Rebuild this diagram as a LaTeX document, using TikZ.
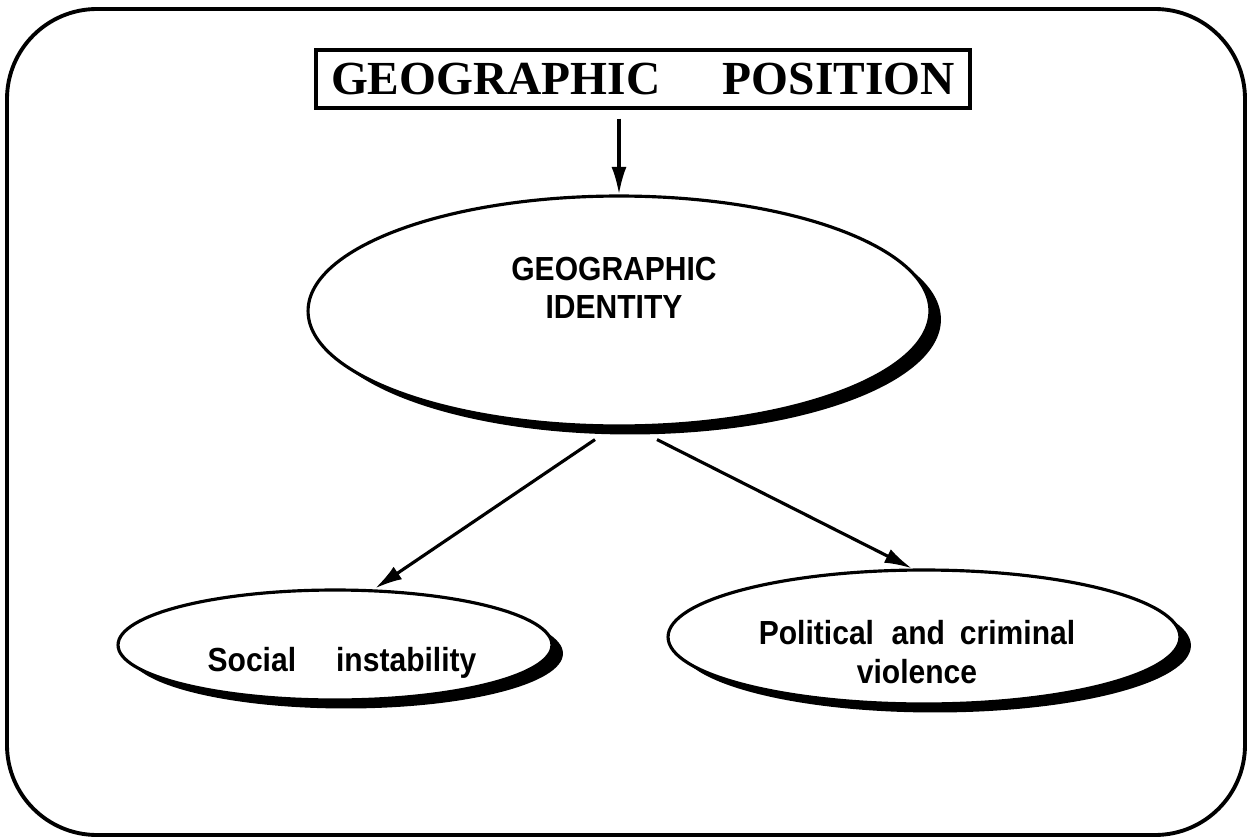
\documentclass[tikz,border=0pt]{standalone}
\usepackage{fontspec}
\setmainfont{Liberation Serif}
\setsansfont{Liberation Sans}
\newfontfamily\lblfont[FakeStretch=0.9]{Liberation Sans}
\usetikzlibrary{arrows.meta,shapes.geometric,shadows}

\begin{document}
\begin{tikzpicture}[x=0.02cm,y=-0.02cm,
  frame/.style={draw,line width=2.2pt,rounded corners=1.8cm},
  titlebox/.style={draw,line width=1.8pt,inner sep=0pt,
    minimum width=13.08cm,minimum height=1.16cm,
    font=\fontsize{27pt}{31pt}\selectfont\bfseries},
  bubble/.style={ellipse,draw,fill=white,line width=1.8pt,inner sep=0pt,
    drop shadow={shadow xshift=0.22cm,shadow yshift=-0.17cm,
      fill=black,opacity=1}},
  label/.style={font=\lblfont\bfseries\fontsize{19pt}{21pt}\selectfont,
    align=center,inner sep=0pt},
  arr/.style={line width=1.8pt,-{Latex[length=0.55cm,width=0.3cm]}}]

  \useasboundingbox (0,0) rectangle (1251,838);

  % outer frame
  \draw[frame] (7,9) rectangle (1245,835);

  % heading
  \node[titlebox] (title) at (643,79)
    {GEOGRAPHIC\hspace{1.25cm}POSITION};

  % ellipses
  \node[bubble,minimum width=12.44cm,minimum height=4.6cm] (geo) at (619,311) {};
  \node[bubble,minimum width=8.68cm,minimum height=2.2cm] (soc) at (335,645) {};
  \node[bubble,minimum width=10.24cm,minimum height=2.68cm] (pol) at (924,637) {};

  % texts
  \node[label] (geot) at (614,288) {GEOGRAPHIC\\[1pt]IDENTITY};
  \node[label] (soct) at (342,663) {Social\hspace{0.8cm}instability};
  \node[label] (polt) at (917,652) {Political\hspace{0.35cm}and\hspace{0.3cm}criminal\\[1pt]violence};

  % connectors
  \draw[arr,shorten <=0.18cm] (title.south -| geo.north) -- (geo.north);
  \draw[arr] ([xshift=-0.48cm,yshift=-0.24cm]geo.south) -- ([xshift=0.8cm]soc.north);
  \draw[arr] ([xshift=0.76cm,yshift=-0.24cm]geo.south) -- ([xshift=-0.24cm]pol.north);
\end{tikzpicture}
\end{document}
